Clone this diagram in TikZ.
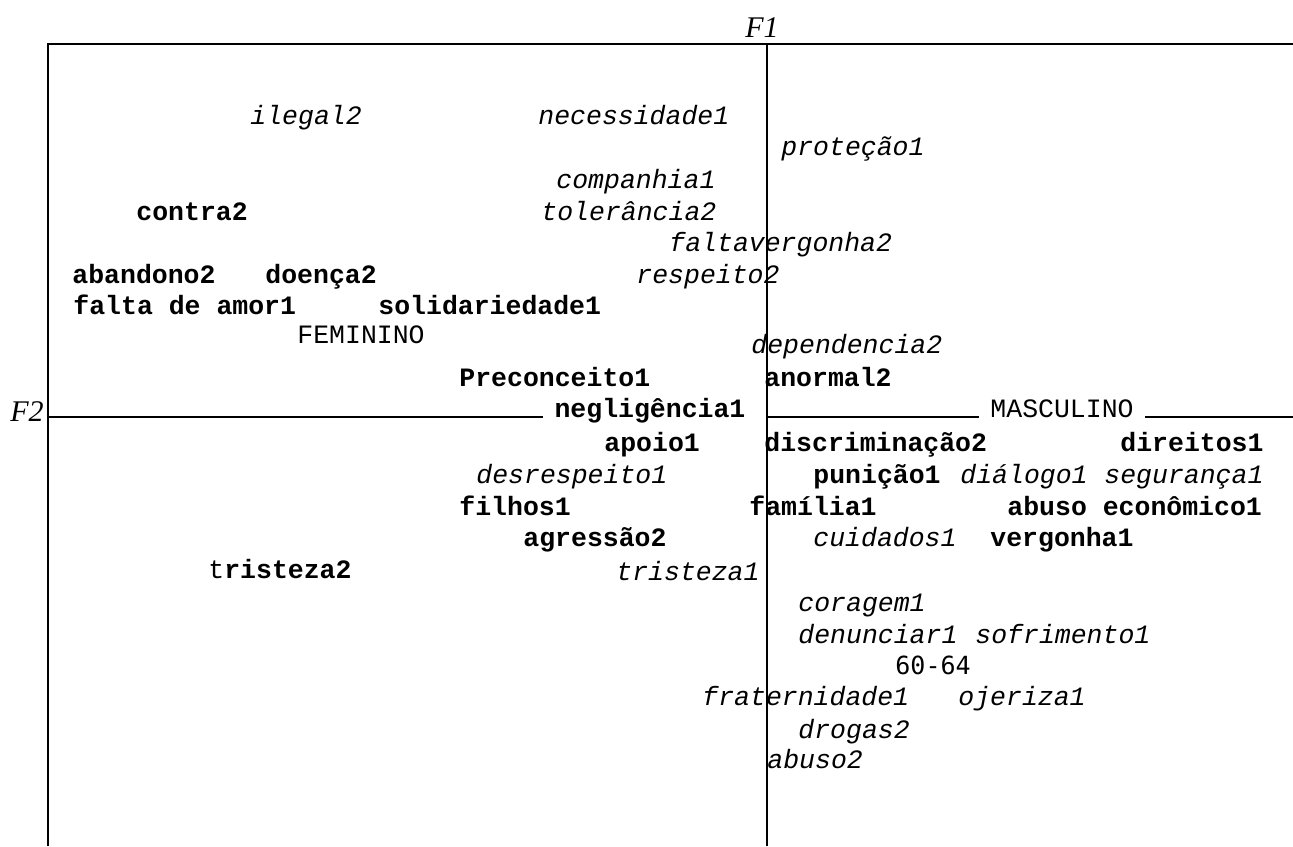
\documentclass[tikz,border=0pt]{standalone}
\usepackage{fontspec}
\setmonofont{Liberation Mono}
\newfontfamily\axisfont{Liberation Serif}
\newfontfamily\agefont{DejaVu Sans Mono}
\tikzset{every picture/.style={ampersand replacement=\&}}

\begin{document}
\begin{tikzpicture}[x=0.5pt,y=-0.5pt,
  every node/.style={inner sep=0pt,anchor=base west,font=\fontsize{13.25}{15}\ttfamily},
  modbold/.style={font=\fontsize{13.25}{15}\ttfamily\bfseries},
  moditalic/.style={font=\fontsize{13.25}{15}\ttfamily\itshape},
  grupo/.style={anchor=base,fill=white,inner xsep=5.5pt,inner ysep=1pt},
  eixo/.style={font=\fontsize{15}{17}\axisfont\itshape}]
  \useasboundingbox (0,0) rectangle (1293,846);
  \coordinate (TL) at (48,44);
  \coordinate (TR) at (1293,44);
  \coordinate (BL) at (48,846);
  \coordinate (L) at (48,417);
  \coordinate (R) at (1293,417);
  \coordinate (O) at (767,417);
  \coordinate (T1) at (767,44);
  \coordinate (B1) at (767,846);
  \draw[line width=0.9pt] (BL) -- (TL) -- (TR);

  \node[eixo] (f1) at (745,37) {F1};
  \node[eixo] (f2) at (10,421) {F2};

  \node[moditalic] (ilegal2) at (250,124) {ilegal2};
  \node[moditalic] (necessidade1) at (538,124) {necessidade1};
  \node[moditalic] (protecao1) at (781,155) {proteção1};
  \node[moditalic] (companhia1) at (556,188) {companhia1};
  \node[modbold] (contra2) at (136,220) {contra2};
  \node[moditalic] (tolerancia2) at (541,220) {tolerância2};
  \node[moditalic] (faltavergonha2) at (669,251) {faltavergonha2};
  \node[modbold] (abandono2) at (72,283) {abandono2};
  \node[modbold] (doenca2) at (265,283) {doença2};
  \node[moditalic] (respeito2) at (636,283) {respeito2};
  \node[modbold] (faltaamor1) at (73,314) {falta de amor1};
  \node[modbold] (solidariedade1) at (378,314) {solidariedade1};
  \node (feminino) at (297,343) {FEMININO};
  \node[moditalic] (dependencia2) at (751,353) {dependencia2};
  \node[modbold] (preconceito1) at (459,386) {Preconceito1};
  \node[modbold] (anormal2) at (764,386) {anormal2};
  \node[modbold,grupo] (negligencia1) at (650,417) {negligência1};
  \node[grupo] (masculino) at (1062,417) {MASCULINO};
  \node[modbold] (apoio1) at (604,451) {apoio1};
  \node[modbold] (discriminacao2) at (764,451) {discriminação2};
  \node[modbold] (direitos1) at (1120,451) {direitos1};
  \node[moditalic] (desrespeito1) at (476,483) {desrespeito1};
  \node[modbold] (punicao1) at (813,483) {punição1};
  \node[moditalic] (dialogo1) at (960,483) {diálogo1};
  \node[moditalic] (seguranca1) at (1104,483) {segurança1};
  \node[modbold] (filhos1) at (459,515) {filhos1};
  \node[modbold] (familia1) at (749,515) {família1};
  \node[modbold] (abusoeconomico1) at (1007,515) {abuso econômico1};
  \node[modbold] (agressao2) at (523,546) {agressão2};
  \node[moditalic] (cuidados1) at (813,546) {cuidados1};
  \node[modbold] (vergonha1) at (990,546) {vergonha1};
  \node (tristeza2) at (208,578) {t\textbf{risteza2}};
  \node[moditalic] (tristeza1) at (616,580) {tristeza1};
  \node[moditalic] (coragem1) at (798,611) {coragem1};
  \node[moditalic] (denunciar1) at (798,643) {denunciar1};
  \node[moditalic] (sofrimento1) at (975,643) {sofrimento1};
  \node[font=\fontsize{12.5}{15}\agefont] (idade) at (895,674) {60-64};
  \node[moditalic] (fraternidade1) at (702,705) {fraternidade1};
  \node[moditalic] (ojeriza1) at (958,705) {ojeriza1};
  \node[moditalic] (drogas2) at (798,738) {drogas2};
  \node[moditalic] (abuso2) at (767,768) {abuso2};

  \draw[line width=0.7pt] (L) -- (L -| negligencia1.west);
  \draw[line width=0.7pt] (O) -- (O -| masculino.west);
  \draw[line width=0.7pt] (O -| masculino.east) -- (R);
  \draw[line width=0.7pt] (T1) -- (B1);
\end{tikzpicture}
\end{document}
